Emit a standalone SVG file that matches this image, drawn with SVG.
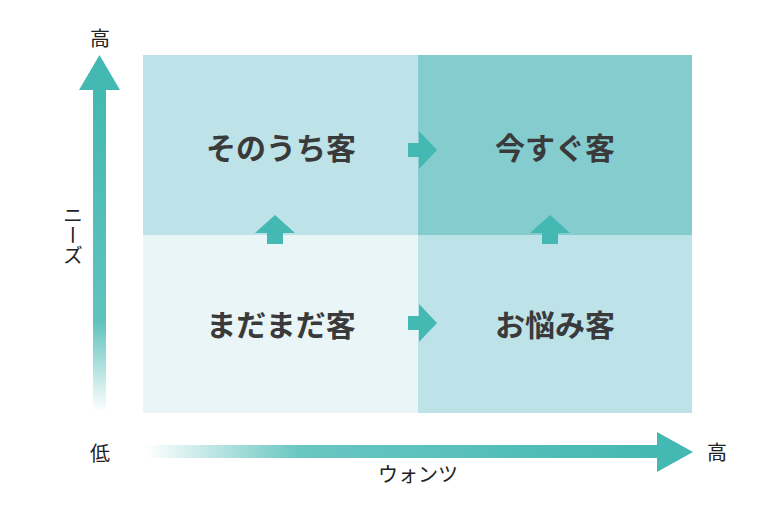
<svg xmlns="http://www.w3.org/2000/svg" width="780" height="520" viewBox="0 0 780 520">
<style>
.q{font-family:"Noto Sans CJK JP","Noto Sans",sans-serif;font-weight:700;font-size:30px;fill:#3a3a3a;text-anchor:middle}
.ax{font-family:"Noto Sans CJK JP","Noto Sans",sans-serif;font-weight:400;font-size:20px;fill:#222;text-anchor:middle}
.ar{fill:#44b8b2}
</style>
<defs>
<linearGradient id="gv" x1="0" y1="90" x2="0" y2="412" gradientUnits="userSpaceOnUse">
<stop offset="0" stop-color="#44b8b2"/>
<stop offset="0.72" stop-color="#44b8b2" stop-opacity="0.85"/>
<stop offset="1" stop-color="#44b8b2" stop-opacity="0"/>
</linearGradient>
<linearGradient id="gh" x1="145" y1="0" x2="660" y2="0" gradientUnits="userSpaceOnUse">
<stop offset="0" stop-color="#44b8b2" stop-opacity="0"/>
<stop offset="0.3" stop-color="#44b8b2" stop-opacity="0.8"/>
<stop offset="1" stop-color="#44b8b2"/>
</linearGradient>
</defs>
<rect width="780" height="520" fill="#fff"/>
<g id="q-sonouchi"><rect x="143" y="55" width="275" height="180" fill="#bde2e8"/><text class="q" x="281" y="159">そのうち客</text></g>
<g id="q-imasugu"><rect x="418" y="55" width="274" height="180" fill="#84cccd"/><text class="q" x="555" y="159">今すぐ客</text></g>
<g id="q-madamada"><rect x="143" y="235" width="275" height="178" fill="#e9f5f6"/><text class="q" x="281" y="336">まだまだ客</text></g>
<g id="q-onayami"><rect x="418" y="235" width="274" height="178" fill="#bde2e8"/><text class="q" x="555" y="336">お悩み客</text></g>
<g id="connectors">
<path class="ar" d="M408,143H419V131L437,150L419,169V157H408Z"/>
<path class="ar" d="M408,316H419V304L437,323L419,342V330H408Z"/>
<path class="ar" d="M267,244V233H255L275,215L295,233H283V244Z"/>
<path class="ar" d="M542,244V233H530L550,215L570,233H558V244Z"/>
</g>
<g id="axis-y">
<rect x="93" y="88" width="13" height="324" fill="url(#gv)"/>
<path class="ar" d="M79,90L99.5,55L120,90Z"/>
<text class="ax" x="100" y="46">高</text>
<text class="ax" x="100" y="461">低</text>
<text class="ax" x="73" y="205" writing-mode="vertical-rl" style="text-anchor:start">ニーズ</text>
</g>
<g id="axis-x">
<rect x="145" y="445" width="515" height="13" fill="url(#gh)"/>
<path class="ar" d="M657,432L693,452L657,472Z"/>
<text class="ax" x="717" y="460">高</text>
<text class="ax" x="418" y="482">ウォンツ</text>
</g>
</svg>
